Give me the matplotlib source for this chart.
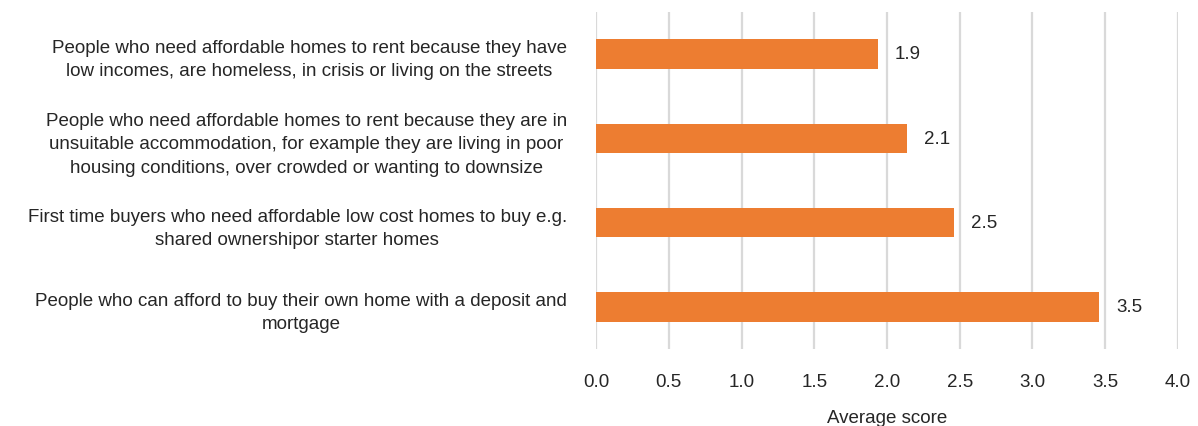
import matplotlib.pyplot as plt
import numpy as np

categories = [
    'People who need affordable homes to rent because they have\nlow incomes, are homeless, in crisis or living on the streets',
    'People who need affordable homes to rent because they are in\nunsuitable accommodation, for example they are living in poor\nhousing conditions, over crowded or wanting to downsize',
    'First time buyers who need affordable low cost homes to buy e.g.\nshared ownershipor starter homes',
    'People who can afford to buy their own home with a deposit and\nmortgage',
]
scores = [1.94, 2.14, 2.46, 3.46]
xticks = [0.0, 0.5, 1.0, 1.5, 2.0, 2.5, 3.0, 3.5, 4.0]

plt.rcParams['font.family'] = ['Liberation Sans', 'DejaVu Sans']
txt = '#262626'

fig = plt.figure(figsize=(11.98, 4.27), dpi=100)
ax = fig.add_axes([0.4975, 0.18, 0.4858, 0.79])

y = np.arange(len(categories))
bars = ax.barh(y, scores, height=0.35, color='#ED7D31', zorder=3)
ax.bar_label(bars, labels=[f'{v:.1f}' for v in scores], padding=12,
             fontsize=13.5, color=txt)

ax.set_ylim(len(categories) - 0.5, -0.5)
ax.set_xlim(0, 4.0)
ax.set_xticks(xticks)
ax.set_xticklabels([f'{t:.1f}' for t in xticks])
ax.set_yticks(y)
ax.set_yticklabels(categories)
for t in ax.get_yticklabels():
    t.set_multialignment('center')
    t.set_linespacing(1.5)
    t.set_fontsize(13.8)

ax.grid(axis='x', color='#d9d9d9', linewidth=1.6, zorder=0)
for s in ax.spines.values():
    s.set_visible(False)
ax.tick_params(axis='both', length=0, labelsize=13.5, colors=txt)
ax.tick_params(axis='y', pad=21)
ax.tick_params(axis='x', pad=17)
ax.set_xlabel('Average score', fontsize=13.5, color=txt, labelpad=14)

fig.savefig('out.png', dpi=100)
plt.close(fig)
